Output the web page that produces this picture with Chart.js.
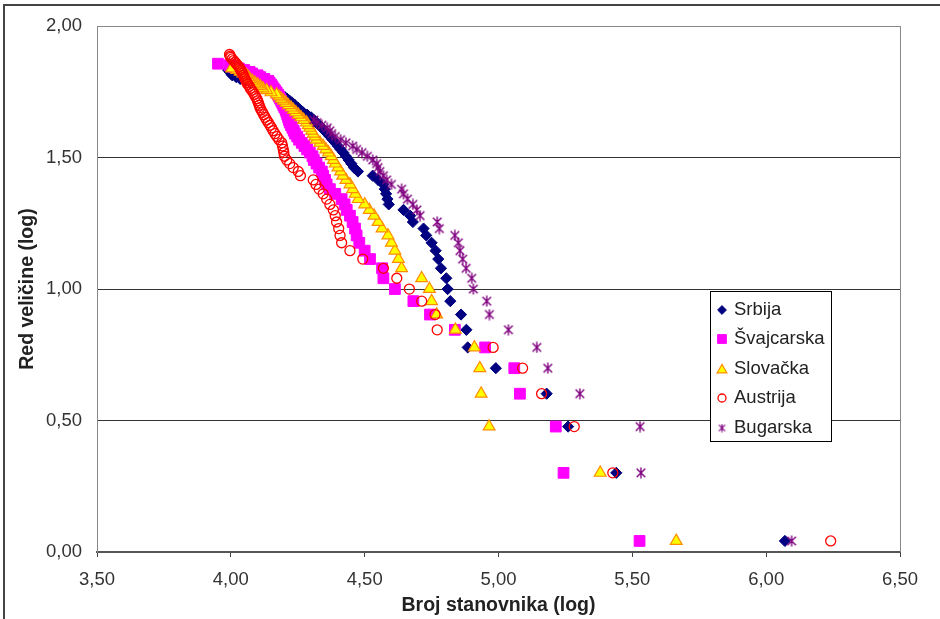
<!DOCTYPE html>
<html><head><meta charset="utf-8">
<script src="https://cdn.jsdelivr.net/npm/chart.js@4/dist/chart.umd.min.js"></script>
<style>html,body{margin:0;padding:0;background:#fff;overflow:hidden}</style>
</head><body>
<canvas id="c" width="940" height="619"></canvas>
<script>
// log(rank) values on the vertical axis (rank 1 is drawn slightly above 0)
const rankLog = [0.042,0.301,0.477,0.602,0.699,0.778,0.845,0.903,0.954,1.000,
1.041,1.079,1.114,1.146,1.176,1.204,1.230,1.255,1.279,1.301,
1.322,1.342,1.362,1.380,1.398,1.415,1.431,1.447,1.462,1.477,
1.491,1.505,1.519,1.531,1.544,1.556,1.568,1.580,1.591,1.602,
1.613,1.623,1.633,1.643,1.653,1.663,1.672,1.681,1.690,1.699,
1.708,1.716,1.724,1.732,1.740,1.748,1.756,1.763,1.771,1.778,
1.785,1.792,1.799,1.806,1.813,1.820,1.826,1.833,1.839,1.845,
1.851,1.857,1.863,1.869,1.875,1.881,1.886,1.892];

// log(population), ordered by rank
const srbijaX = [6.07,5.44,5.26,5.18,4.99,4.885,4.88,4.86,4.82,4.81,
4.805,4.785,4.775,4.765,4.75,4.73,4.72,4.68,4.67,4.645,
4.59,4.585,4.58,4.575,4.57,4.55,4.53,4.475,4.46,4.45,
4.44,4.43,4.42,4.41,4.40,4.39,4.38,4.37,4.36,4.35,
4.34,4.33,4.32,4.31,4.30,4.285,4.27,4.26,4.25,4.24,
4.23,4.22,4.21,4.20,4.19,4.175,4.155,4.135,4.115,4.095,
4.075,4.055,4.035,4.02,4.005,4.0,3.995,3.99];

const svajcarskaX = [5.527,5.243,5.214,5.08,5.059,4.95,4.837,4.744,4.682,4.613,
4.57,4.565,4.52,4.50,4.48,4.47,4.464,4.455,4.445,4.433,
4.425,4.414,4.39,4.37,4.358,4.352,4.345,4.34,4.33,4.32,
4.31,4.305,4.295,4.285,4.275,4.265,4.255,4.248,4.24,4.235,
4.23,4.225,4.22,4.217,4.214,4.211,4.208,4.205,4.20,4.196,
4.192,4.188,4.184,4.18,4.176,4.171,4.165,4.16,4.155,4.15,
4.145,4.14,4.125,4.11,4.10,4.08,4.07,4.05,4.03,4.01,
3.995,3.952];

const slovackaX = [5.664,5.38,4.965,4.935,4.93,4.91,4.839,4.769,4.75,4.742,
4.713,4.638,4.626,4.613,4.60,4.587,4.565,4.55,4.535,4.517,
4.50,4.476,4.465,4.455,4.445,4.43,4.418,4.41,4.40,4.39,
4.383,4.375,4.365,4.355,4.345,4.333,4.32,4.314,4.308,4.302,
4.295,4.289,4.283,4.272,4.262,4.252,4.243,4.234,4.225,4.215,
4.206,4.197,4.188,4.18,4.171,4.15,4.134,4.12,4.11,4.10,
4.09,4.08,4.07,4.065,4.059,4.045,4.035,4.022,4.003];

const austrijaX = [6.241,5.427,5.283,5.161,5.09,4.98,4.771,4.763,4.713,4.667,
4.62,4.57,4.493,4.445,4.414,4.408,4.403,4.395,4.39,4.383,
4.37,4.358,4.345,4.33,4.318,4.308,4.26,4.252,4.233,4.22,
4.209,4.20,4.198,4.196,4.193,4.19,4.18,4.172,4.165,4.158,
4.152,4.146,4.14,4.134,4.128,4.123,4.118,4.113,4.109,4.106,
4.103,4.10,4.097,4.092,4.088,4.083,4.078,4.073,4.069,4.064,
4.06,4.057,4.053,4.05,4.047,4.044,4.04,4.037,4.034,4.03,
4.025,4.02,4.016,4.01,4.005,4.0,3.998,3.995];

const bugarskaX = [6.095,5.532,5.529,5.304,5.184,5.143,5.037,4.966,4.956,4.906,
4.90,4.879,4.866,4.856,4.85,4.837,4.779,4.771,4.707,4.695,
4.68,4.66,4.645,4.638,4.60,4.582,4.57,4.557,4.55,4.545,
4.53,4.51,4.49,4.47,4.455,4.43,4.41,4.39,4.377,4.37,
4.36,4.34,4.321,4.31];

const seriesNames = ['Srbija','Švajcarska','Slovačka','Austrija','Bugarska'];
const xTicks = [3.5,4.0,4.5,5.0,5.5,6.0,6.5];
const yTicks = [0,0.5,1.0,1.5,2.0];

const FONT = '"Liberation Sans", Arial, sans-serif';
const fmt = v => Number(v).toFixed(2).replace('.', ',');
const pts = xs => xs.map((x, i) => ({x: x, y: rankLog[i]}));

function makeStar(size, color, lw) {
  const c = document.createElement('canvas');
  c.width = c.height = size;
  const g = c.getContext('2d');
  g.strokeStyle = color; g.lineWidth = lw;
  const m = size / 2, r = size / 2 - 0.5, d = r * 0.78;
  g.beginPath();
  g.moveTo(m, m - r); g.lineTo(m, m + r);
  g.moveTo(m - d, m - d); g.lineTo(m + d, m + d);
  g.moveTo(m + d, m - d); g.lineTo(m - d, m + d);
  g.stroke();
  return c;
}
const starBig = makeStar(12, '#800080', 1.4);
const starSmall = makeStar(9, '#800080', 1.2);

const styles = [
  {pointStyle: 'rectRot', radius: 5.6, bg: '#000080', bc: '#000080', bw: 1, lr: 4.4},
  {pointStyle: 'rect', radius: 7.6, bg: '#FF00FF', bc: '#FF00FF', bw: 1, lr: 6.2},
  {pointStyle: 'triangle', radius: 6.8, bg: '#FFFF00', bc: '#FF8C00', bw: 1.2, lr: 5.6},
  {pointStyle: 'circle', radius: 5, bg: 'rgba(0,0,0,0)', bc: '#FF0000', bw: 1.3, lr: 4},
  {pointStyle: starBig, radius: 6, bg: '#800080', bc: '#800080', bw: 0, lr: 4, small: starSmall}
];
const allX = [srbijaX, svajcarskaX, slovackaX, austrijaX, bugarskaX];

const datasets = seriesNames.map((name, i) => ({
  label: name,
  data: pts(allX[i]),
  showLine: false,
  pointStyle: styles[i].pointStyle,
  pointRadius: styles[i].radius,
  pointHoverRadius: styles[i].radius,
  backgroundColor: styles[i].bg,
  borderColor: styles[i].bc,
  pointBorderWidth: styles[i].bw,
  order: 5 - i
}));

const framePlugin = {
  id: 'frame',
  beforeDraw(chart) {
    const ctx = chart.ctx;
    ctx.save();
    ctx.fillStyle = '#fff';
    ctx.fillRect(0, 0, chart.width, chart.height);
    ctx.strokeStyle = '#444';
    ctx.lineWidth = 2;
    ctx.strokeRect(4, 5, 2000, 2000);
    ctx.restore();
  },
  beforeDatasetsDraw(chart) {
    const {ctx, chartArea: a} = chart;
    ctx.save();
    ctx.strokeStyle = '#888';
    ctx.lineWidth = 1;
    ctx.beginPath();
    ctx.moveTo(Math.round(a.right) + 0.5, a.top);
    ctx.lineTo(Math.round(a.right) + 0.5, a.bottom);
    ctx.stroke();
    ctx.restore();
  },
  afterDraw(chart) {
    const ctx = chart.ctx;
    ctx.save();
    ctx.fillStyle = '#fff';
    ctx.strokeStyle = '#000';
    ctx.lineWidth = 1;
    ctx.fillRect(710.5, 291.5, 121, 150);
    ctx.strokeRect(710.5, 291.5, 121, 150);
    const rows = [310, 339, 369, 398, 428];
    ctx.font = '18.5px ' + FONT;
    ctx.textBaseline = 'middle';
    ctx.textAlign = 'left';
    seriesNames.forEach((name, i) => {
      const s = styles[i];
      const y = rows[i];
      if (s.small) {
        ctx.drawImage(s.small, 722 - s.small.width / 2, y - s.small.height / 2);
      } else {
        ctx.fillStyle = s.bg;
        ctx.strokeStyle = s.bc;
        ctx.lineWidth = s.bw;
        Chart.helpers.drawPoint(ctx, {pointStyle: s.pointStyle, radius: s.lr, borderWidth: s.bw, rotation: 0}, 722, y + (s.pointStyle === 'triangle' ? 1 : 0));
      }
      ctx.fillStyle = '#222';
      ctx.fillText(name, 734, y);
    });
    ctx.restore();
  }
};

new Chart(document.getElementById('c'), {
  type: 'scatter',
  data: {datasets},
  plugins: [framePlugin],
  options: {
    responsive: false,
    animation: false,
    devicePixelRatio: 1,
    layout: {padding: {top: 22, right: 40, left: 0, bottom: 0}},
    plugins: {legend: {display: false}, tooltip: {enabled: false}},
    scales: {
      x: {
        type: 'linear', min: 3.5, max: 6.5,
        afterBuildTicks: s => { s.ticks = xTicks.map(v => ({value: v})); },
        afterFit: s => { s.height = 67; },
        ticks: {callback: fmt, font: {size: 18.5, family: FONT}, color: '#333', padding: 12, maxRotation: 0, autoSkip: false},
        grid: {display: true, drawOnChartArea: false, drawTicks: true, tickLength: 5, color: '#444'},
        border: {display: true, color: '#555', width: 2},
        title: {display: true, text: 'Broj stanovnika (log)', color: '#222', font: {size: 19.5, weight: 'bold', family: FONT}, padding: {top: 0, bottom: 1.5}}
      },
      y: {
        type: 'linear', min: 0, max: 2,
        afterBuildTicks: s => { s.ticks = yTicks.map(v => ({value: v})); },
        afterFit: s => { s.width = 97; },
        ticks: {callback: fmt, font: {size: 18.5, family: FONT}, color: '#333', padding: 15},
        grid: {drawTicks: false, color: c => (c.tick && c.tick.value === 2) ? '#888' : (c.tick && c.tick.value === 0 ? 'rgba(0,0,0,0)' : '#333')},
        border: {display: true, color: '#888', width: 1},
        title: {display: true, text: 'Red veličine (log)', color: '#222', font: {size: 19.5, weight: 'bold', family: FONT}, padding: {top: 16, bottom: 0}}
      }
    }
  }
});
</script>
</body></html>
